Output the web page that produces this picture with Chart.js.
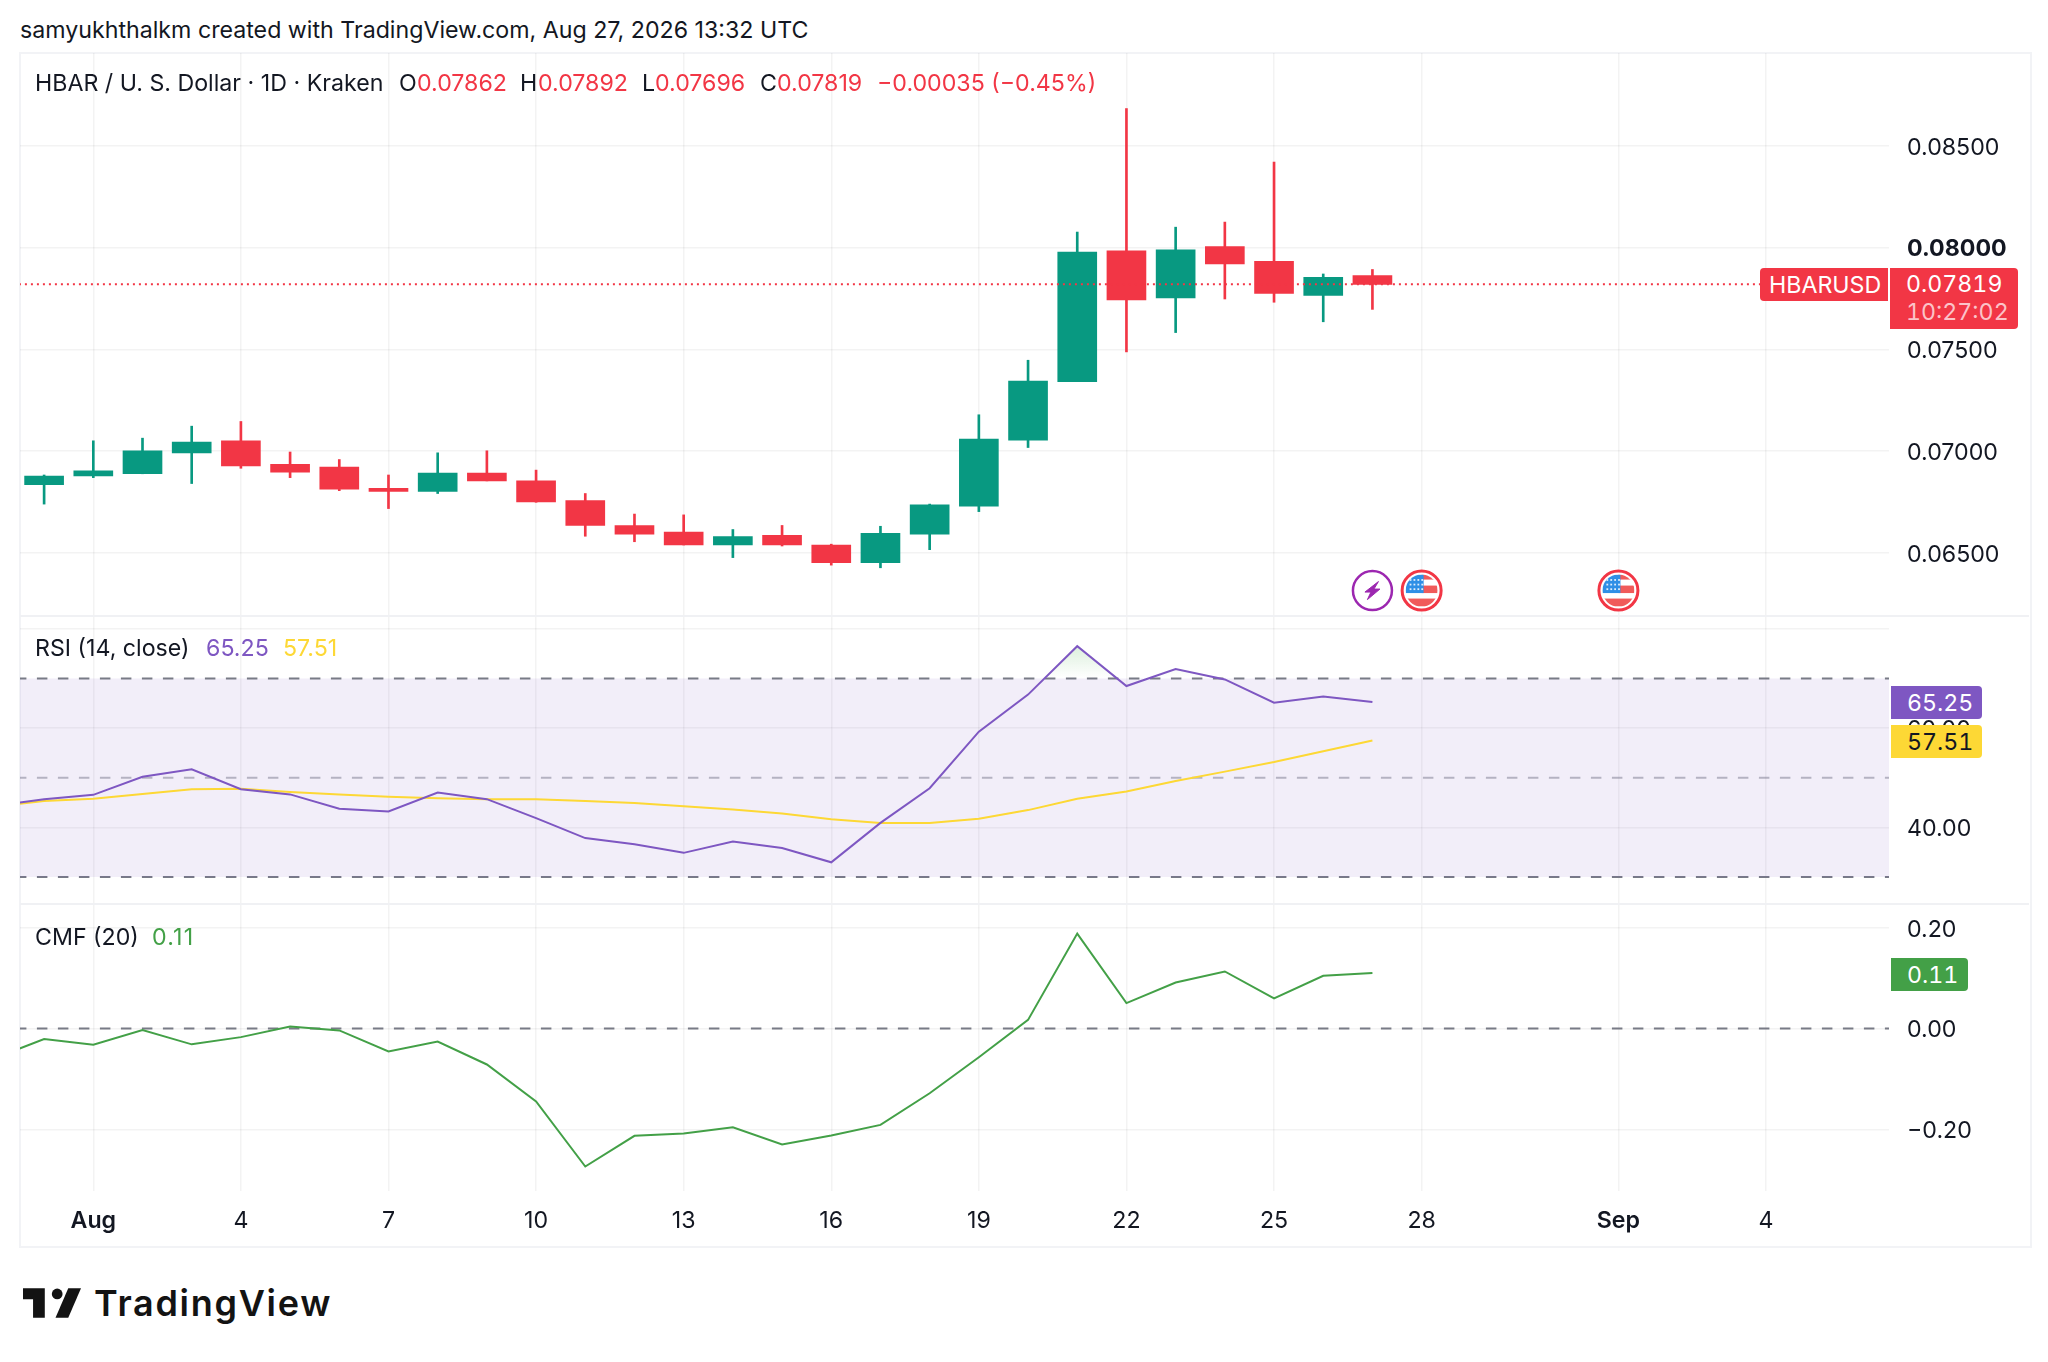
<!DOCTYPE html>
<html>
<head>
<meta charset="utf-8">
<title>HBAR / U. S. Dollar</title>
<script src="https://cdn.jsdelivr.net/npm/chart.js@4"></script>
<style>
  html, body { margin: 0; padding: 0; background: #fff; }
  body { width: 2048px; height: 1362px; position: relative; overflow: hidden; font-family: Inter, sans-serif; color: #131722; }
  .pane { position: absolute; left: 0; width: 2048px; }
  .pane canvas { display: block; }
  .frame { position: absolute; left: 19px; top: 52px; width: 2009px; height: 1192px; border: 2px solid #f2f3f6; }
  .sep { position: absolute; left: 20px; width: 2009px; height: 2px; background: #f0f1f4; }
  .t { position: absolute; white-space: nowrap; font-size: 23.2px; line-height: 28px; transform: translateY(-50%); }
  .red { color: #f23645; }
  .badge { position: absolute; color: #fff; font-size: 23.2px; line-height: 28px; display: flex; align-items: center; padding-left: 16px; box-sizing: border-box; border-radius: 0 4px 4px 0; font-variant-numeric: tabular-nums; }
</style>
</head>
<body>
<div class="frame"></div>
<div class="pane" style="top:53px;height:563px"><canvas id="price-chart" width="2048" height="563"></canvas></div>
<div class="pane" style="top:616px;height:288px"><canvas id="rsi-chart" width="2048" height="288"></canvas></div>
<div class="pane" style="top:904px;height:341px"><canvas id="cmf-chart" width="2048" height="341"></canvas></div>
<div class="sep" style="top:615px"></div>
<div class="sep" style="top:903px"></div>

<div class="t" style="left:20px;top:30px">samyukhthalkm created with TradingView.com, Aug 27, 2026 13:32 UTC</div>
<div class="t" style="left:35px;top:83px">HBAR / U. S. Dollar · 1D · Kraken</div>
<div class="t" style="left:399px;top:83px">O</div><div class="t red" style="left:417px;top:83px">0.07862</div>
<div class="t" style="left:520px;top:83px">H</div><div class="t red" style="left:538px;top:83px">0.07892</div>
<div class="t" style="left:642px;top:83px">L</div><div class="t red" style="left:655px;top:83px">0.07696</div>
<div class="t" style="left:760px;top:83px">C</div><div class="t red" style="left:777px;top:83px">0.07819</div>
<div class="t red" style="left:877px;top:83px">−0.00035 (−0.45%)</div>

<div class="t" style="left:35px;top:648px">RSI (14, close)</div>
<div class="t" style="left:206px;top:648px;color:#7e57c2">65.25</div>
<div class="t" style="left:283px;top:648px;color:#fdd835">57.51</div>
<div class="t" style="left:35px;top:937px">CMF (20)</div>
<div class="t" style="left:152px;top:937px;color:#43a047;letter-spacing:1.2px">0.11</div>

<div class="badge" style="left:1760px;top:268px;width:128px;height:33px;background:#f23645;border-radius:4px 0 0 4px;padding-left:9px">HBARUSD</div>
<div class="badge" style="left:1890px;top:268px;width:128px;height:61px;background:#f23645;display:block;padding-top:2px">0.07819<br><span style="color:#fbc3c8">10:27:02</span></div>
<div class="badge" style="left:1891px;top:686px;width:91px;height:33px;background:#7e57c2">65.25</div>
<div class="badge" style="left:1891px;top:725px;width:91px;height:33px;background:#fdd835;color:#131722">57.51</div>
<div class="badge" style="left:1891px;top:958px;width:77px;height:33px;background:#43a047">0.11</div>

<svg style="position:absolute;left:23px;top:1288px" width="58" height="30" viewBox="70 55 173 88">
  <path fill="#131313" d="M70 55H135V143H100V88H70Z"/>
  <circle fill="#131313" cx="172" cy="72" r="16"/>
  <path fill="#131313" d="M205 55H243L205 143H167Z"/>
</svg>
<div style="position:absolute;left:94px;top:1283px;font-size:36px;line-height:40px;font-weight:600;letter-spacing:1.7px;color:#131313">TradingView</div>

<script>
// Candles, one per day. Day 0 is Jul 31, day 1 is Aug 1
const days = [0,1,2,3,4,5,6,7,8,9,10,11,12,13,14,15,16,17,18,19,20,21,22,23,24,25,26,27];
const opens = [0.06834,0.06877,0.06888,0.06991,0.07050,0.06935,0.06921,0.06816,0.06801,0.06892,0.06853,0.06756,0.06634,0.06601,0.06538,0.06585,0.06538,0.06451,0.06591,0.06729,0.07053,0.07341,0.07984,0.07752,0.08004,0.07932,0.07765,0.07862];
const closes = [0.06877,0.06902,0.07001,0.07044,0.06927,0.06896,0.06812,0.06801,0.06892,0.06853,0.06750,0.06634,0.06591,0.06538,0.06579,0.06538,0.06451,0.06595,0.06735,0.07059,0.07343,0.07977,0.07742,0.07989,0.07919,0.07775,0.07854,0.07819];
const highs = [0.06882,0.07050,0.07063,0.07122,0.07145,0.06995,0.06958,0.06882,0.06991,0.07001,0.06906,0.06791,0.06690,0.06686,0.06614,0.06634,0.06542,0.06630,0.06739,0.07178,0.07446,0.08076,0.08683,0.08100,0.08125,0.08420,0.07870,0.07892];
const lows = [0.06739,0.06869,0.06888,0.06840,0.06915,0.06869,0.06805,0.06717,0.06791,0.06853,0.06748,0.06581,0.06554,0.06538,0.06476,0.06533,0.06439,0.06426,0.06515,0.06702,0.07017,0.07341,0.07487,0.07582,0.07747,0.07731,0.07635,0.07696];
const lastPrice = 0.07819;

// Indicator lines also have a day before the first candle, cut off by the pane edge
const lineDays = [-1,0,1,2,3,4,5,6,7,8,9,10,11,12,13,14,15,16,17,18,19,20,21,22,23,24,25,26,27];
const rsiValues = [44.35,45.69,46.56,50.19,51.72,47.70,46.65,43.78,43.21,47.03,45.69,41.87,37.85,36.60,34.88,37.18,35.84,32.97,40.91,47.89,59.28,66.75,76.50,68.47,71.91,69.81,65.12,66.36,65.25];
const rsiMaValues = [44.16,45.31,45.79,46.75,47.70,47.80,47.13,46.65,46.17,45.89,45.69,45.69,45.31,44.93,44.26,43.59,42.82,41.67,40.91,40.91,41.77,43.49,45.79,47.22,49.33,51.24,53.16,55.36,57.51];
const cmfValues = [-0.0589,-0.0209,-0.0323,-0.0029,-0.0314,-0.0171,0.0038,-0.0038,-0.0456,-0.0257,-0.0713,-0.1444,-0.2736,-0.2128,-0.2081,-0.1957,-0.2299,-0.2119,-0.1910,-0.1283,-0.0570,0.0171,0.1881,0.0504,0.0912,0.1131,0.0599,0.1045,0.11];

// Axis ticks
const dateTickDays = [1,4,7,10,13,16,19,22,25,28,32,35];
const dateTickLabels = ['Aug','4','7','10','13','16','19','22','25','28','Sep','4'];
const priceTicks = [0.065,0.07,0.075,0.08,0.085];
const rsiTicks = [40,60,80];
const cmfTicks = [-0.2,0,0.2];

// Calendar markers under the candles
const earningsDays = [27];
const econDays = [28,32];
const markerPrice = 0.06314;

const fontFamily = 'Inter, sans-serif';
const fontSize = 23.2;
const gridColor = 'rgba(46,46,46,0.06)';
const textColor = '#131722';
const upColor = '#089981';
const downColor = '#f23645';
const levelColor = '#787b86';
const xRange = { min: -0.49, max: 37.5 };
const edgeDays = [-1, 38];

// Panes line up only if the scales ask for no room beyond their own box
function noPadding(s) {
    s.paddingTop = 0; s.paddingBottom = 0; s.paddingLeft = 0; s.paddingRight = 0;
}

function xScale(showLabels) {
    return {
        type: 'linear', min: xRange.min, max: xRange.max, offset: false,
        border: { display: false },
        grid: { color: gridColor, lineWidth: 1.5, drawTicks: false, offset: false },
        afterBuildTicks: s => { s.ticks = dateTickDays.map(v => ({ value: v })); },
        afterFit: s => { s.height = showLabels ? 54 : 0; noPadding(s); },
        ticks: {
            display: showLabels, autoSkip: false, maxRotation: 0, padding: 16, color: textColor,
            callback: v => dateTickLabels[dateTickDays.indexOf(v)],
            font: ctx => {
                const label = ctx.tick ? dateTickLabels[dateTickDays.indexOf(ctx.tick.value)] : '';
                return { family: fontFamily, size: fontSize, weight: (label === 'Aug' || label === 'Sep') ? '600' : '400' };
            }
        }
    };
}

function yScale(min, max, tickValues, format) {
    return {
        position: 'right', min, max,
        border: { display: false },
        grid: { color: gridColor, lineWidth: 1.5, drawTicks: false },
        afterBuildTicks: s => { s.ticks = tickValues.map(v => ({ value: v })); },
        afterFit: s => { s.width = 159; noPadding(s); },
        ticks: {
            autoSkip: false, padding: 18, color: textColor, callback: format,
            font: ctx => ({ family: fontFamily, size: fontSize, weight: ctx.tick && ctx.tick.value === 0.08 ? '700' : '400' })
        }
    };
}

// Inter sits a little high on the middle baseline, nudge the price labels down
const labelNudge = {
    id: 'labelNudge',
    beforeDraw(chart) {
        chart.scales.y.getLabelItems(chart.chartArea).forEach(item => {
            if (!item.nudged) { item.options.translation[1] += 2; item.nudged = true; }
        });
    }
};

const baseOptions = {
    responsive: false, animation: false, events: [],
    layout: { padding: { left: 20, right: 0, top: 0, bottom: 0 } },
    plugins: { legend: { display: false }, tooltip: { enabled: false } }
};

function lineAt(value, extra) {
    return Object.assign({
        type: 'line', data: edgeDays.map(d => ({ x: d, y: value })),
        borderColor: levelColor, borderWidth: 2, borderDash: [10.5, 10.5], pointRadius: 0, fill: false, order: 3
    }, extra);
}

function series(xs, ys, color, extra) {
    return Object.assign({
        type: 'line', data: xs.map((x, i) => ({ x, y: ys[i] })),
        borderColor: color, borderWidth: 2, pointRadius: 0, tension: 0, fill: false
    }, extra);
}

function drawEarnings(ctx, x, y) {
    ctx.save();
    ctx.beginPath(); ctx.arc(x, y, 19.5, 0, Math.PI * 2);
    ctx.fillStyle = '#fff'; ctx.fill();
    ctx.strokeStyle = '#9c27b0'; ctx.lineWidth = 2.5; ctx.stroke();
    ctx.beginPath();
    [[6, -9], [-7.5, 1.5], [-1.5, 1.5], [-5, 9], [7.5, -1.5], [1.5, -1.5]].forEach(p => ctx.lineTo(x + p[0], y + p[1]));
    ctx.closePath();
    ctx.fillStyle = '#9c27b0'; ctx.strokeStyle = '#9c27b0'; ctx.lineWidth = 1; ctx.lineJoin = 'round';
    ctx.fill(); ctx.stroke();
    ctx.restore();
}

function drawFlag(ctx, x, y) {
    ctx.save();
    ctx.beginPath(); ctx.arc(x, y, 19.5, 0, Math.PI * 2);
    ctx.fillStyle = '#fff'; ctx.fill();
    ctx.strokeStyle = '#f23645'; ctx.lineWidth = 3; ctx.stroke();
    ctx.beginPath(); ctx.arc(x, y, 16, 0, Math.PI * 2); ctx.clip();
    ctx.fillStyle = '#f05a5a';
    ctx.fillRect(x, y - 16, 16, 5);
    ctx.fillRect(x, y - 5, 16, 7.5);
    ctx.fillRect(x - 16, y + 8, 32, 8);
    ctx.fillStyle = '#2f8fe6';
    ctx.fillRect(x - 16, y - 16, 18, 18.5);
    ctx.fillStyle = 'rgba(255,255,255,0.85)';
    for (let r = 0; r < 3; r++) {
        for (let c = 0; c < 4; c++) {
            ctx.fillRect(x - 12 + c * 3.9, y - 11.5 + r * 4.6, 1.8, 1.8);
        }
    }
    ctx.restore();
}

const markerPlugin = {
    id: 'markers',
    afterDatasetsDraw(chart) {
        const y = chart.scales.y.getPixelForValue(markerPrice);
        earningsDays.forEach(d => drawEarnings(chart.ctx, chart.scales.x.getPixelForValue(d), y));
        econDays.forEach(d => drawFlag(chart.ctx, chart.scales.x.getPixelForValue(d), y));
    }
};

const candleColors = days.map((d, i) => closes[i] >= opens[i] ? upColor : downColor);

// Price pane
new Chart(document.getElementById('price-chart'), {
    type: 'bar',
    data: {
        datasets: [
            {
                data: days.map((d, i) => ({ x: d, y: [opens[i], closes[i]] })),
                backgroundColor: candleColors, barThickness: 39, grouped: false, order: 1
            },
            {
                data: days.map((d, i) => ({ x: d, y: [lows[i], highs[i]] })),
                backgroundColor: candleColors, barThickness: 2, grouped: false, order: 2
            },
            lineAt(lastPrice, { borderColor: downColor, borderDash: [2, 4], order: 0 })
        ]
    },
    options: Object.assign({}, baseOptions, {
        scales: {
            x: xScale(false),
            y: yScale(0.06189, 0.08956, priceTicks, v => v.toFixed(5))
        }
    }),
    plugins: [markerPlugin, labelNudge]
});

// RSI pane
const rsiChart = new Chart(document.getElementById('rsi-chart'), {
    type: 'line',
    data: {
        datasets: [
            lineAt(70, { fill: { target: { value: 30 }, above: 'rgba(126,87,194,0.1)' } }),
            lineAt(50, { borderColor: 'rgba(120,123,134,0.5)' }),
            lineAt(30),
            series(lineDays, rsiMaValues, '#fdd835', { order: 2 }),
            series(lineDays, rsiValues, '#7e57c2', { order: 1, fill: { target: { value: 70 }, above: 'transparent', below: 'transparent' } })
        ]
    },
    options: Object.assign({}, baseOptions, {
        scales: {
            x: xScale(false),
            y: yScale(24.78, 82.38, rsiTicks, v => v === 80 ? '' : v.toFixed(2))
        }
    }),
    plugins: [labelNudge]
});
// Green glow above the overbought line
const rsiY = rsiChart.scales.y;
const glow = rsiChart.ctx.createLinearGradient(0, rsiY.getPixelForValue(Math.max(...rsiValues)), 0, rsiY.getPixelForValue(70));
glow.addColorStop(0, 'rgba(76,175,80,0.2)');
glow.addColorStop(1, 'rgba(76,175,80,0)');
rsiChart.data.datasets[4].fill.above = glow;
rsiChart.update('none');

// CMF pane
new Chart(document.getElementById('cmf-chart'), {
    type: 'line',
    data: {
        datasets: [
            lineAt(0),
            series(lineDays, cmfValues, '#43a047', { order: 1 })
        ]
    },
    options: Object.assign({}, baseOptions, {
        scales: {
            x: xScale(true),
            y: yScale(-0.3221, 0.2468, cmfTicks, v => v.toFixed(2).replace('-', '−'))
        }
    }),
    plugins: [labelNudge]
});
</script>
</body>
</html>
